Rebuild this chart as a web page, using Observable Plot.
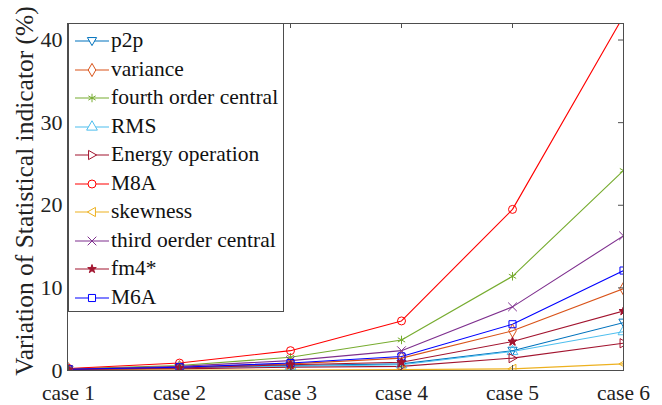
<!DOCTYPE html>
<html>
<head>
<meta charset="utf-8">
<script src="https://cdn.jsdelivr.net/npm/d3@7"></script>
<script src="https://cdn.jsdelivr.net/npm/@observablehq/plot@0.6"></script>
<style>
  body { margin: 0; background: white; }
  #wrap { position: relative; width: 662px; height: 405px; font-family: "Liberation Serif", "Times New Roman", serif; }
  #legend { position: absolute; left: 68px; top: 23px; width: 216px; height: 289px; box-sizing: border-box; border: 1px solid #4d4d4d; background: white; }
  .row { position: absolute; left: 0; height: 28px; width: 100%; }
  .row svg { position: absolute; left: 0; top: 0; }
  .row span { position: absolute; left: 42px; top: 50%; transform: translateY(-52%); font-family: "Liberation Serif", "Times New Roman", serif; font-size: 21.5px; color: #111; white-space: nowrap; line-height: 1; }
</style>
</head>
<body>
<div id="wrap"></div>
<script>
// ---- data ----
const cases = ["case 1", "case 2", "case 3", "case 4", "case 5", "case 6"];
const seriesNames = ["p2p", "variance", "fourth order central", "RMS", "Energy operation", "M8A", "skewness", "third oerder central", "fm4*", "M6A"];
const p2p      = [0.1, 0.3, 0.6, 0.8, 2.4, 5.8];
const variance = [0.15, 0.4, 0.8, 1.5, 4.8, 9.9];
const fourth   = [0.2, 0.6, 1.6, 3.7, 11.4, 24.2];
const rms      = [0.1, 0.3, 0.5, 0.7, 2.3, 4.7];
const energy   = [0.1, 0.2, 0.4, 0.5, 1.5, 3.3];
const m8a      = [0.25, 0.9, 2.4, 6.0, 19.5, 42.9];
const skewness = [0.05, 0.05, 0.05, 0.1, 0.2, 0.8];
const third    = [0.15, 0.5, 1.2, 2.4, 7.7, 16.3];
const fm4      = [0.1, 0.3, 0.7, 1.0, 3.5, 7.2];
const m6a      = [0.15, 0.4, 0.9, 1.7, 5.6, 12.1];
const yTicks = [0, 10, 20, 30, 40];
const yLabel = "Variation of Statistical indicator (%)";

const seriesValues = [p2p, variance, fourth, rms, energy, m8a, skewness, third, fm4, m6a];
const colors = ["#0072BD", "#D95319", "#77AC30", "#4DBEEE", "#A2142F", "#FF0000", "#EDB120", "#7E2F8E", "#A2142F", "#0000FF"];

// custom symbols
const rad = s => Math.sqrt(s / Math.PI);
const triDown = {draw(c, s) { const r = rad(s) * 1.15; c.moveTo(0, r); c.lineTo(r, -r * 0.75); c.lineTo(-r, -r * 0.75); c.closePath(); }};
const triLeft = {draw(c, s) { const r = rad(s) * 1.15; c.moveTo(-r, 0); c.lineTo(r * 0.75, -r); c.lineTo(r * 0.75, r); c.closePath(); }};
const triRight = {draw(c, s) { const r = rad(s) * 1.15; c.moveTo(r, 0); c.lineTo(-r * 0.75, -r); c.lineTo(-r * 0.75, r); c.closePath(); }};
const smallStar = {draw(c, s) { d3.symbolStar.draw(c, s * 0.45); }};
const symbols = [triDown, d3.symbolDiamond, d3.symbolAsterisk, d3.symbolTriangle, triRight, d3.symbolCircle, triLeft, d3.symbolTimes, smallStar, d3.symbolSquare];
const filledName = "fm4*";

const rows = [];
seriesNames.forEach((name, i) => {
  cases.forEach((c, j) => rows.push({series: name, case: c, value: seriesValues[i][j]}));
});

const W = 662, H = 405;
const mL = 67, mR = 39, mT = 23, mB = 35;
const fw = W - mL - mR, fh = H - mT - mB;

const chart = Plot.plot({
  width: W, height: H,
  marginLeft: mL, marginRight: mR, marginTop: mT, marginBottom: mB,
  style: {fontFamily: "Liberation Serif, Times New Roman, serif", fontSize: "21.5px", background: "white", color: "#222"},
  x: {type: "point", domain: cases, padding: 0, axis: null},
  y: {domain: [0, 42], axis: null},
  color: {domain: seriesNames, range: colors},
  symbol: {domain: seriesNames, range: symbols},
  marks: [
    Plot.line(rows, {x: "case", y: "value", z: "series", stroke: "series", strokeWidth: 1.1, clip: true}),
    Plot.dot(rows, {x: "case", y: "value", symbol: "series", stroke: "series", fill: "none", r: 4, strokeWidth: 1, clip: true}),
    Plot.dot(rows.filter(d => d.series === filledName), {x: "case", y: "value", symbol: "series", stroke: "series", fill: "series", r: 4, strokeWidth: 1, clip: true}),
    Plot.frame({stroke: "#4d4d4d", strokeWidth: 1}),
    Plot.tickY(yTicks, {y: d => d, stroke: "#4d4d4d", insetRight: fw - 5}),
    Plot.tickY(yTicks, {y: d => d, stroke: "#4d4d4d", insetLeft: fw - 5}),
    Plot.tickX(cases, {x: d => d, stroke: "#4d4d4d", insetTop: fh - 5}),
    Plot.tickX(cases, {x: d => d, stroke: "#4d4d4d", insetBottom: fh - 5}),
    Plot.axisY(yTicks, {tickSize: 0, tickPadding: 5, label: null, fill: "#222", fontSize: 22}),
    Plot.axisX({tickSize: 0, tickPadding: 14, label: null, fill: "#222"}),
    Plot.text([yLabel], {frameAnchor: "left", rotate: -90, dx: -43, dy: -6, textAnchor: "middle", lineAnchor: "middle", fill: "#222", fontSize: 25.5})
  ]
});

const wrap = document.getElementById("wrap");
wrap.appendChild(chart);

// legend (inside the axes, top-left, MATLAB style)
const legend = document.createElement("div");
legend.id = "legend";
seriesNames.forEach((name, i) => {
  const row = document.createElement("div");
  row.className = "row";
  row.style.top = (3 + i * 28.5) + "px";
  const svg = d3.create("svg").attr("width", 42).attr("height", 28);
  svg.append("line").attr("x1", 6).attr("x2", 40).attr("y1", 14).attr("y2", 14).attr("stroke", colors[i]).attr("stroke-width", 1.1);
  svg.append("path").attr("transform", "translate(23,14)")
    .attr("d", d3.symbol(symbols[i], Math.PI * 16)())
    .attr("stroke", colors[i]).attr("fill", name === filledName ? colors[i] : "white");
  row.appendChild(svg.node());
  const span = document.createElement("span");
  span.textContent = name;
  row.appendChild(span);
  legend.appendChild(row);
});
wrap.appendChild(legend);
</script>
</body>
</html>
